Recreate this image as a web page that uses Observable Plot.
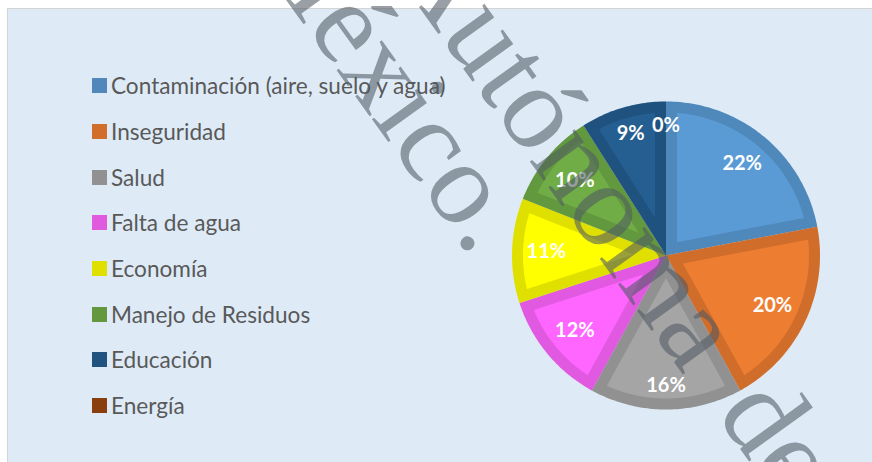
<!DOCTYPE html>
<html><head><meta charset="utf-8">
<script src="https://cdn.jsdelivr.net/npm/d3@7"></script>
<script src="https://cdn.jsdelivr.net/npm/@observablehq/plot@0.6"></script>
<style>
html,body{margin:0;padding:0;background:#fff;}
#wrap{position:relative;width:872px;height:462px;overflow:hidden;background:#fff;}
#panel{position:absolute;left:7px;top:8px;width:880px;height:470px;background:#DEEBF7;border-left:1px solid #D4D4D4;border-top:1px solid #D4D4D4;}
#chart{position:absolute;left:0;top:0;}
#legend{position:absolute;left:92px;top:63px;}
.lg-swatches{font-family:Lato,sans-serif;font-size:22.6px;color:#595959;margin:0;}
.lg-swatch{height:45.7px;padding:0;margin:0;}
.lg-swatch > svg{margin-right:4px;}
#wm{position:absolute;left:0;top:0;pointer-events:none;}
</style></head><body>
<div id="wrap"><div id="panel"></div><div id="chart"></div><div id="legend"></div><svg id="wm" width="872" height="462"></svg></div>
<script>
// ---- data ----
const categories = ["Contaminación (aire, suelo y agua)", "Inseguridad", "Salud", "Falta de agua", "Economía", "Manejo de Residuos", "Educación", "Energía"];
const percents = [22, 20, 16, 12, 11, 10, 9, 0];
const colors = ["#5B9BD5", "#ED7D31", "#A5A5A5", "#FF66FF", "#FFFF00", "#70AD47", "#255E91", "#9A460F"];
const watermarkWords = ["México.", "Autónoma", "de"];

// ---- layout ----
const W = 872, H = 462;
const cx = 665.5, cy = 255, R = 154;   // pie centre / radius in pixels
const bandPx = 11;                      // darker inner rim of each slice
const shade = 0.12;

// build slice geometry in unit-circle coordinates from the percentages
const outer = [], inner = [], labels = [];
let cum = 0;
const total = d3.sum(percents);
percents.forEach((p, i) => {
  const cat = categories[i];
  const a0 = cum / total * 2 * Math.PI, a1 = (cum + p) / total * 2 * Math.PI;
  cum += p;
  const am = (a0 + a1) / 2;
  const txt = p + "%";
  const hw = 7 * txt.length - 1, hh = 10;
  const rl = (R - 14 - (hw * Math.abs(Math.sin(am)) + hh * Math.abs(Math.cos(am)))) / R;
  labels.push({cat, txt, x: rl * Math.sin(am), y: rl * Math.cos(am)});
  if (p <= 0) return;
  const steps = Math.max(2, Math.ceil((a1 - a0) / (Math.PI / 180)));
  outer.push({cat, x: 0, y: 0});
  for (let k = 0; k <= steps; k++) {
    const a = a0 + (a1 - a0) * k / steps;
    outer.push({cat, x: Math.sin(a), y: Math.cos(a)});
  }
  const d = bandPx / R, half = (a1 - a0) / 2;
  const apex = d / Math.sin(half);
  const ri = 1 - d, delta = Math.asin(d / ri);
  inner.push({cat, x: apex * Math.sin(am), y: apex * Math.cos(am)});
  for (let k = 0; k <= steps; k++) {
    const a = a0 + delta + (a1 - a0 - 2 * delta) * k / steps;
    inner.push({cat, x: ri * Math.sin(a), y: ri * Math.cos(a)});
  }
});

const chart = Plot.plot({
  width: W, height: H,
  marginLeft: cx - R, marginRight: W - (cx + R),
  marginTop: cy - R, marginBottom: H - (cy + R),
  x: {domain: [-1, 1], axis: null},
  y: {domain: [-1, 1], axis: null},
  color: {domain: categories, range: colors},
  style: {background: "transparent", overflow: "visible"},
  marks: [
    Plot.line(outer, {x: "x", y: "y", z: "cat", fill: "cat", stroke: "none"}),
    Plot.line(outer, {x: "x", y: "y", z: "cat", fill: "black", fillOpacity: shade, stroke: "none"}),
    Plot.line(inner, {x: "x", y: "y", z: "cat", fill: "cat", stroke: "none"}),
    Plot.text(labels, {x: "x", y: "y", text: "txt", fill: "white", fontSize: 20, fontWeight: "bold", fontFamily: "Lato, sans-serif"})
  ]
});
document.getElementById("chart").appendChild(chart);

const legendColors = colors.map(c => { const r = d3.rgb(c); return d3.rgb(r.r * (1 - shade), r.g * (1 - shade), r.b * (1 - shade)).formatHex(); });
const legend = Plot.legend({
  color: {domain: categories, range: legendColors},
  legend: "swatches", swatchSize: 15, columns: 1, className: "lg"
});
document.getElementById("legend").appendChild(legend);

// ---- watermark overlay from the source document ----
const wmPlace = [
  {x: 358, y: 100, size: 118},
  {x: 536, y: 170, size: 120},
  {x: 748, y: 460, size: 120}
];
const wm = d3.select("#wm");
watermarkWords.forEach((w, i) => {
  const p = wmPlace[i];
  wm.append("text")
    .attr("transform", `translate(${p.x},${p.y}) rotate(54.3)`)
    .attr("text-anchor", "middle")
    .attr("font-family", "Liberation Serif, serif")
    .attr("font-size", p.size)
    .attr("fill", "#4f5963")
    .attr("fill-opacity", 0.58)
    .text(w);
});
</script>
</body></html>
